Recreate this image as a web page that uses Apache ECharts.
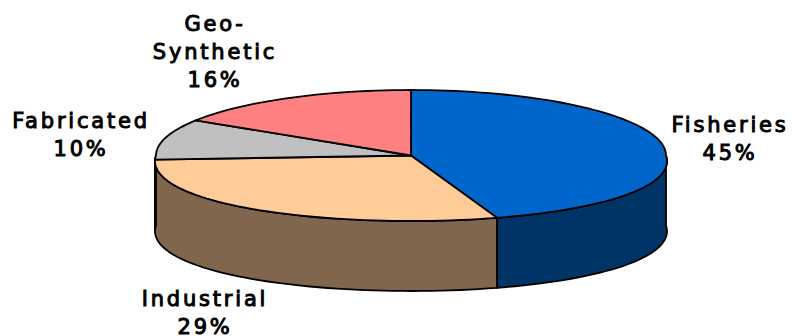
<!DOCTYPE html>
<html>
<head>
<meta charset="utf-8">
<style>
  html, body { margin: 0; padding: 0; background: #fff; }
  #chart { width: 792px; height: 336px; }
  #chart text { letter-spacing: 2.8px; }
</style>
<script src="https://cdn.jsdelivr.net/npm/echarts@6/dist/echarts.min.js"></script>
</head>
<body>
<div id="chart"></div>
<script>
// Product share by market segment
const categories = ['Fisheries', 'Industrial', 'Fabricated', 'Geo-\nSynthetic'];
const shares = [45, 29, 10, 16];
const topColors = ['#0066cc', '#ffcc99', '#c0c0c0', '#ff8080'];
const wallColors = ['#003366', '#80664d', '#606060', '#804040'];

// Disc geometry: squashed ellipse with an extruded rim; the near half spreads slightly
const disc = { cx: 411, cy: 155.5, rx: 255, ry: 65.5, depth: 70, nearSpread: 0.088 };
const labelCentres = [[730, 138.5], [205, 313], [81, 134.5], [215, 51.5]];
const outline = { stroke: '#000', lineWidth: 1.8, lineJoin: 'round' };

const total = shares.reduce((a, b) => a + b, 0);

function rim(angle, drop) {
  const t = angle * Math.PI / 180;
  const c = Math.cos(t);
  const w = 1 + disc.nearSpread * Math.min(c, 0);
  return [disc.cx + disc.rx * Math.sin(t) / w, disc.cy - disc.ry * c + (drop || 0)];
}
function sweep(from, to, drop) {
  const pts = [];
  const n = Math.max(2, Math.ceil(Math.abs(to - from) / 2));
  for (let i = 0; i <= n; i++) pts.push(rim(from + (to - from) * i / n, drop));
  return pts;
}
function startAngle(index) {
  let sum = 0;
  for (let i = 0; i < index; i++) sum += shares[i];
  return sum / total * 360;
}

// Rim walls: only the front half of the disc (90deg to 270deg) faces the viewer
function renderWall(params, api) {
  const begin = startAngle(params.dataIndex);
  const from = Math.max(begin, 90);
  const to = Math.min(begin + api.value(0) / total * 360, 270);
  if (to <= from) return { type: 'group', children: [] };
  const points = sweep(from, to, 0).concat(sweep(to, from, disc.depth));
  return {
    type: 'polygon',
    shape: { points },
    style: Object.assign({ fill: wallColors[params.dataIndex] }, outline)
  };
}

// Top face of each slice
function renderTop(params, api) {
  const from = startAngle(params.dataIndex);
  const to = from + api.value(0) / total * 360;
  const points = [[disc.cx, disc.cy]].concat(sweep(from, to, 0));
  return {
    type: 'polygon',
    shape: { points },
    style: Object.assign({ fill: topColors[params.dataIndex] }, outline)
  };
}

// Category name with its percentage beneath
function renderLabel(params, api) {
  const pos = labelCentres[params.dataIndex];
  return {
    type: 'text',
    x: pos[0],
    y: pos[1],
    style: {
      text: categories[params.dataIndex] + '\n' + api.value(0) + '%',
      fill: '#000',
      stroke: '#000',
      lineWidth: 1,
      font: '21px "DejaVu Sans", Verdana, sans-serif',
      lineHeight: 28,
      align: 'center',
      verticalAlign: 'middle'
    }
  };
}

const rows = shares.map(v => [v]);
const chart = echarts.init(document.getElementById('chart'), null, { renderer: 'svg' });
chart.setOption({
  animation: false,
  backgroundColor: '#fff',
  series: [
    { type: 'custom', coordinateSystem: 'none', silent: true, z: 1, data: rows, renderItem: renderWall },
    { type: 'custom', coordinateSystem: 'none', silent: true, z: 2, data: rows, renderItem: renderTop },
    { type: 'custom', coordinateSystem: 'none', silent: true, z: 3, data: rows, renderItem: renderLabel }
  ]
});
</script>
</body>
</html>
